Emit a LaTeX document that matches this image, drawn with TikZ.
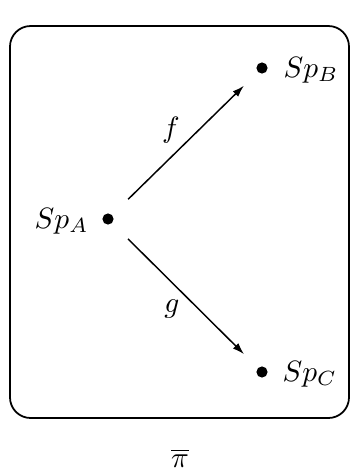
\documentclass[tikz,border=0pt]{standalone}
\usepackage{tikz}
\usetikzlibrary{arrows.meta}
\tikzset{
  frame/.style   = {draw=black, line width=0.6pt, rounded corners=7pt},
  pt/.style      = {circle, fill=black, inner sep=0pt, minimum size=3.8pt},
  lblr/.style    = {anchor=west, inner sep=0pt},
  lbll/.style    = {anchor=east, inner sep=0pt},
  maparrow/.style= {-{Latex[length=4pt,width=2.6pt]}, line width=0.5pt, shorten <=7.5pt, shorten >=6.5pt},
}
\begin{document}
\begin{tikzpicture}[x=0.34pt,y=-0.34pt]
  \useasboundingbox (0,0) rectangle (356,473);
  \draw[frame] (10,26) rectangle (349,418);

  % points
  \node[pt] (a) at (108,219) {};
  \node[pt] (b) at (262,68) {};
  \node[pt] (c) at (262,372) {};
  \node[lbll] (la) at (89,221) {$Sp_A$};
  \node[lblr] (lb) at (283,70) {$Sp_B$};
  \node[lblr] (lc) at (282,374) {$Sp_C$};

  % maps
  \draw[maparrow] (a) -- (b);
  \draw[maparrow] (a) -- (c);
  \node (f) at (171,130) {$f$};
  \node (g) at (172,309) {$g$};

  \node (pi) at (180,458) {$\overline{\pi}$};
\end{tikzpicture}
\end{document}
